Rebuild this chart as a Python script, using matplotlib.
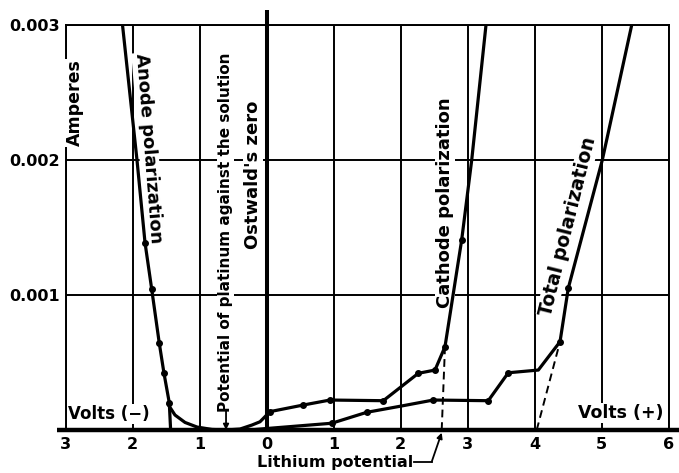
import matplotlib
matplotlib.use("Agg")
import matplotlib.pyplot as plt
import numpy as np

# ---------------- data (volts, amperes) ----------------
x_ticks = [-3, -2, -1, 0, 1, 2, 3, 4, 5, 6]
x_tick_labels = ["3", "2", "1", "0", "1", "2", "3", "4", "5", "6"]
y_ticks = [0.001, 0.002, 0.003]
y_tick_labels = ["0.001", "0.002", "0.003"]

# anode polarization (straight branch, extrapolated to zero current)
anode_v = [-2.152, -1.936, -1.816, -1.716, -1.603, -1.533, -1.454, -1.434]
anode_i = [0.0030, 0.0020, 0.001387, 0.001042, 0.000642, 0.000420, 0.000202, 0.0]
anode_meas = [0, 0, 1, 1, 1, 1, 1, 0]

# curve from anode bend through platinum potential into cathode polarization
cath_v = [-1.466, -1.369, -1.219, -1.040, -0.816, -0.607, -0.399, -0.219, -0.100,
          0.049, 0.546, 0.945, 1.740, 2.263, 2.512, 2.661, 2.910, 3.060, 3.273]
cath_i = [0.000185, 0.000111, 0.000056, 0.000022, 0.000004, 0.0, 0.000007, 0.000037,
          0.000061, 0.000136, 0.000185, 0.000222, 0.000217, 0.000420, 0.000444,
          0.000617, 0.001407, 0.0020, 0.0030]
cath_meas = [0, 0, 0, 0, 0, 0, 0, 0, 0, 1, 1, 1, 1, 1, 1, 1, 1, 0, 0]

# total polarization
tot_v = [-0.25, 0.0, 0.970, 1.493, 2.015, 2.487, 3.307, 3.606, 4.054, 4.378, 4.501, 5.009, 5.448]
tot_i = [0.0, 0.000011, 0.000050, 0.000131, 0.000178, 0.000222, 0.000217, 0.000424,
         0.000444, 0.000654, 0.001050, 0.0020, 0.0030]
tot_meas = [0, 0, 1, 1, 0, 1, 1, 1, 0, 1, 1, 0, 0]

# dashed extrapolations to zero current
cath_ext_v = [2.612, 2.661]
cath_ext_i = [0.0, 0.000617]
tot_ext_v = [4.030, 4.378]
tot_ext_i = [0.0, 0.000654]

platinum_potential = -0.607
lithium_potential = 2.612

# ---------------- figure ----------------
W, H = 679, 473
fig = plt.figure(figsize=(W / 100, H / 100), dpi=100)
ax = fig.add_axes([65.7 / W, 43 / H, 603 / W, 405 / H])
ax.set_xlim(-3, 6)
ax.set_ylim(0, 0.003)

FONT = "DejaVu Sans"
FW = "bold"

ax.set_xticks(x_ticks)
ax.set_xticklabels(x_tick_labels, fontsize=11.5, fontweight=FW, family=FONT)
ax.set_yticks(y_ticks)
ax.set_yticklabels(y_tick_labels, fontsize=11.5, fontweight=FW, family=FONT)
ax.tick_params(axis="both", length=0)
ax.tick_params(axis="x", pad=5)
ax.tick_params(axis="y", pad=4)

ax.grid(True, color="black", lw=1.4, zorder=1)
ax.set_axisbelow(True)
for s in ["left", "top", "right"]:
    ax.spines[s].set_linewidth(1.4)
ax.spines["bottom"].set_visible(False)

# thick baseline and thick zero line
ax.plot([-3.13, 6.154], [0, 0], color="black", lw=3.2, clip_on=False, zorder=6,
        solid_capstyle="butt")
ax.plot([0, 0], [0, 0.003111], color="black", lw=2.9, clip_on=False, zorder=6,
        solid_capstyle="butt")

LW = 2.3
def draw(v, i, meas):
    v = np.asarray(v); i = np.asarray(i); m = np.asarray(meas, bool)
    ax.plot(v, i, color="black", lw=LW, zorder=5, solid_joinstyle="round")
    ax.plot(v[m], i[m], "o", color="black", ms=4, zorder=5)

draw(anode_v, anode_i, anode_meas)
draw(cath_v, cath_i, cath_meas)
draw(tot_v, tot_i, tot_meas)
ax.plot(cath_ext_v, cath_ext_i, color="black", lw=1.4, ls=(0, (4, 2.5)), zorder=5)
ax.plot(tot_ext_v, tot_ext_i, color="black", lw=1.4, ls=(0, (4, 2.5)), zorder=5)

bb = dict(facecolor="white", edgecolor="none", pad=0.5)
def label(x, y, s, size, rot=0, ha="center", va="center"):
    ax.text(x, y, s, fontsize=size, fontweight=FW, family=FONT, rotation=rot,
            ha=ha, va=va, zorder=4, bbox=bb, rotation_mode="anchor")

label(-2.861, 0.002422, "Amperes", 12.5, 90)
label(-1.764, 0.002085, "Anode polarization", 13, -85.5)
label(-0.615, 0.001463, "Potential of platinum against the solution", 11, 90)
label(-0.204, 0.001889, "Ostwald's zero", 13, 90)
label(2.661, 0.001685, "Cathode polarization", 13, 90)
label(4.497, 0.001511, "Total polarization", 13.5, 76)
label(-2.966, 0.000119, "Volts (\u2212)", 12, 0, ha="left")
label(4.646, 0.000126, "Volts (+)", 12.5, 0, ha="left")

# platinum potential arrow
ax.annotate("", xy=(platinum_potential, 0.0), xytext=(platinum_potential, 0.00014),
            arrowprops=dict(arrowstyle="-|>", color="black", lw=1.3,
                            mutation_scale=8, shrinkA=0, shrinkB=0), zorder=5)

# lithium potential label with leader
ax.text(1.019, -0.000243, "Lithium potential", fontsize=11.5, fontweight=FW, family=FONT,
        ha="center", va="center", clip_on=False)
ax.plot([2.20, 2.463], [-0.000235, -0.000235], color="black", lw=1.3, clip_on=False)
ax.annotate("", xy=(lithium_potential, -0.00002), xytext=(2.463, -0.000235),
            arrowprops=dict(arrowstyle="-|>", color="black", lw=1.3,
                            mutation_scale=8, shrinkA=0, shrinkB=0),
            annotation_clip=False)

fig.savefig("out.png", dpi=100, facecolor="white")
